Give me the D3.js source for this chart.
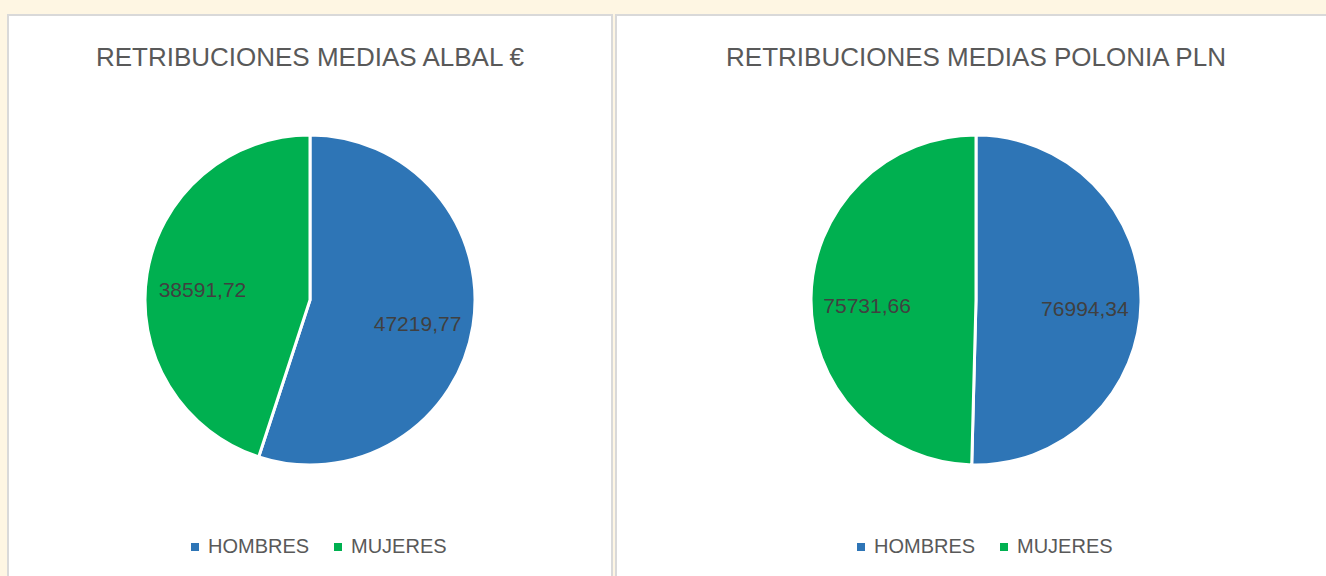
<!DOCTYPE html>
<meta charset="utf-8">
<style>
body { margin: 0; background: #fef6e3; }
svg { display: block; font-family: "Liberation Sans", Arial, sans-serif; }
.panel { fill: white; stroke: #d9d9d9; stroke-width: 2; }
.title { fill: #595959; font-size: 26px; text-anchor: middle; }
.label { fill: #404040; font-size: 21px; text-anchor: middle; }
.legend text { fill: #595959; font-size: 20px; }
</style>
<svg width="1326" height="576"></svg>
<script src="https://d3js.org/d3.v7.min.js"></script>
<script>
// datos de los dos graficos
var categories = ["HOMBRES", "MUJERES"];
var colors = ["#2e75b6", "#00b050"];
var titles = ["RETRIBUCIONES MEDIAS ALBAL €", "RETRIBUCIONES MEDIAS POLONIA PLN"];
var albal = [47219.77, 38591.72];
var polonia = [76994.34, 75731.66];

var charts = [
    {title: titles[0], values: albal, x: 8, w: 604, cx: 310},
    {title: titles[1], values: polonia, x: 616, w: 720, cx: 976}
];

var svg = d3.select("svg");
var color = d3.scaleOrdinal().domain(categories).range(colors);
var fmt = function(v) { return v.toFixed(2).replace(".", ","); };

var pie = d3.pie().sort(null).value(function(d) { return d.v; });
var radius = 165, cy = 300;
var arc = d3.arc().innerRadius(0).outerRadius(radius);
var labelArc = d3.arc().innerRadius(radius * 0.66).outerRadius(radius * 0.66);

charts.forEach(function(c) {
    svg.append("rect").attr("class", "panel")
        .attr("x", c.x).attr("y", 15).attr("width", c.w).attr("height", 580);

    svg.append("text").attr("class", "title")
        .attr("x", c.cx).attr("y", 66).text(c.title);

    var data = categories.map(function(k, i) { return {k: k, v: c.values[i]}; });
    var g = svg.append("g").attr("transform", "translate(" + c.cx + "," + cy + ")");
    var arcs = pie(data);

    g.selectAll("path").data(arcs).enter().append("path")
        .attr("d", arc)
        .attr("fill", function(d) { return color(d.data.k); })
        .attr("stroke", "white").attr("stroke-width", 3);

    g.selectAll("text").data(arcs).enter().append("text")
        .attr("class", "label")
        .attr("transform", function(d) { var p = labelArc.centroid(d); return "translate(" + p[0] + "," + (p[1] + 7) + ")"; })
        .attr("dy", "0.35em")
        .text(function(d) { return fmt(d.data.v); });

    var lg = svg.append("g").attr("class", "legend")
        .attr("transform", "translate(" + (c.cx - 119) + ",553)");
    var item = lg.selectAll("g").data(categories).enter().append("g")
        .attr("transform", function(d, i) { return "translate(" + (i * 143) + ",0)"; });
    item.append("rect").attr("y", -10).attr("width", 8).attr("height", 8)
        .attr("fill", function(d) { return color(d); });
    item.append("text").attr("x", 17).text(function(d) { return d; });
});
</script>
